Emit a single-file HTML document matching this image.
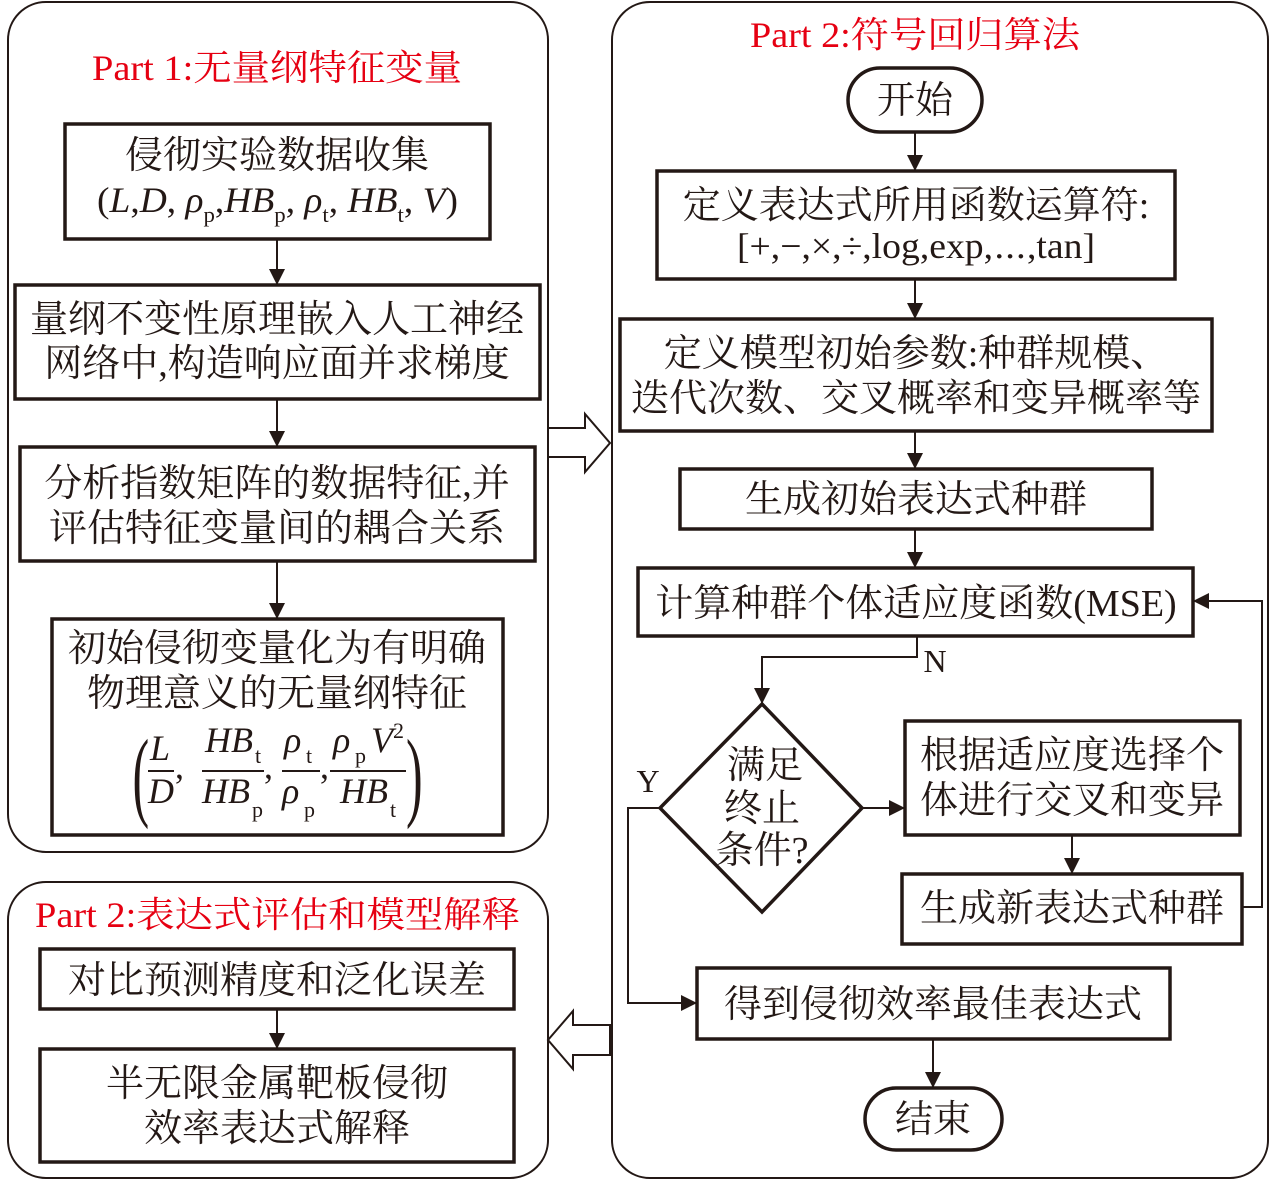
<!DOCTYPE html>
<html><head><meta charset="utf-8"><style>
html,body{margin:0;padding:0;background:#fff}
text{font-family:"Liberation Serif","Noto Serif CJK SC",serif;fill:#231815}
.c{font-size:38px;text-anchor:middle}
.r{fill:#e60012;font-size:36px}
.i{font-style:italic}
</style></head><body>
<svg width="1276" height="1180" viewBox="0 0 1276 1180" xmlns="http://www.w3.org/2000/svg">
<defs>
<marker id="b" markerWidth="16" markerHeight="16" refX="15" refY="8" orient="auto" markerUnits="userSpaceOnUse"><path d="M0,0 L16,8 L0,16 Z" fill="#231815"/></marker></defs>
<g fill="none" stroke="#231815" stroke-width="2">
<rect x="8" y="2" width="540" height="850" rx="38"/>
<rect x="8" y="882" width="540" height="296" rx="38"/>
<rect x="612" y="2" width="656" height="1176" rx="38"/>
</g>
<g fill="none" stroke="#231815" stroke-width="3.5">
<rect x="65" y="124" width="425" height="115"/>
<rect x="15" y="285" width="525" height="114"/>
<rect x="20" y="447" width="515" height="114"/>
<rect x="52" y="619" width="451" height="216"/>
<rect x="40" y="949" width="474" height="60"/>
<rect x="40" y="1049" width="474" height="113"/>
<rect x="848" y="68" width="134" height="64" rx="32"/>
<rect x="657" y="171" width="518" height="108"/>
<rect x="620" y="319" width="592" height="112"/>
<rect x="680" y="469" width="472" height="60"/>
<rect x="638" y="568" width="555" height="68"/>
<polygon points="762,704 862,808 762,912 660,808"/>
<rect x="905" y="721" width="335" height="114"/>
<rect x="902" y="874" width="340" height="70"/>
<rect x="697" y="968" width="473" height="71"/>
<rect x="865" y="1088" width="137" height="62" rx="31"/>
</g>
<g fill="#fff" stroke="#231815" stroke-width="2">
<path d="M548,428 L585,428 L585,414 L610,443 L585,472 L585,457 L548,457 Z"/>
<path d="M610,1025 L573,1025 L573,1011 L548,1040 L573,1069 L573,1055 L610,1055 Z"/>
</g>
<g stroke="#231815" stroke-width="2" fill="none" marker-end="url(#b)">
<line x1="277" y1="240" x2="277" y2="284"/>
<line x1="277" y1="400" x2="277" y2="446"/>
<line x1="277" y1="562" x2="277" y2="618"/>
<line x1="277" y1="1010" x2="277" y2="1048"/>
<line x1="915" y1="132" x2="915" y2="170"/>
<line x1="915" y1="280" x2="915" y2="318"/>
<line x1="915" y1="432" x2="915" y2="468"/>
<line x1="915" y1="530" x2="915" y2="567"/>
<polyline points="917,637 917,657 762,657 762,703"/>
<line x1="862" y1="808" x2="904" y2="808"/>
<line x1="1072" y1="836" x2="1072" y2="873"/>
<polyline points="1242,907 1262,907 1262,601 1194,601"/>
<polyline points="660,808 628,808 628,1003 696,1003"/>
<line x1="933" y1="1040" x2="933" y2="1087"/>
</g>
<text class="r" x="92" y="80" textLength="370" lengthAdjust="spacingAndGlyphs">Part 1:无量纲特征变量</text>
<text class="r" x="35" y="927" textLength="485" lengthAdjust="spacingAndGlyphs">Part 2:表达式评估和模型解释</text>
<text class="r" x="750" y="47" textLength="330" lengthAdjust="spacingAndGlyphs">Part 2:符号回归算法</text>
<text class="c" x="277" y="168">侵彻实验数据收集</text>
<text x="97" y="212" style="font-size:36px" textLength="361" lengthAdjust="spacingAndGlyphs">(<tspan class="i">L</tspan>,<tspan class="i">D</tspan>, <tspan class="i">ρ</tspan><tspan dy="10" font-size="22">p</tspan><tspan dy="-10">,</tspan><tspan class="i">HB</tspan><tspan dy="10" font-size="22">p</tspan><tspan dy="-10">, </tspan><tspan class="i">ρ</tspan><tspan dy="10" font-size="22">t</tspan><tspan dy="-10">, </tspan><tspan class="i">HB</tspan><tspan dy="10" font-size="22">t</tspan><tspan dy="-10">, </tspan><tspan class="i">V</tspan>)</text>
<text class="c" x="277" y="332">量纲不变性原理嵌入人工神经</text>
<text class="c" x="277" y="376">网络中,构造响应面并求梯度</text>
<text class="c" x="277" y="496">分析指数矩阵的数据特征,并</text>
<text class="c" x="277" y="541">评估特征变量间的耦合关系</text>
<text class="c" x="277" y="661">初始侵彻变量化为有明确</text>
<text class="c" x="277" y="706">物理意义的无量纲特征</text>
<g style="font-size:36px">
<text x="0" y="808" style="font-size:100px" transform="scale(0.5,1) translate(265,0)">(</text>
<text x="150" y="760" class="i">L</text><line x1="148" y1="771" x2="174" y2="771" stroke="#231815" stroke-width="2"/><text x="148" y="803" class="i">D</text><text x="175" y="778">,</text>
<text x="205" y="752" class="i">HB</text><text x="255" y="763" font-size="22">t</text><line x1="202" y1="771" x2="264" y2="771" stroke="#231815" stroke-width="2"/><text x="202" y="803" class="i">HB</text><text x="252" y="817" font-size="22">p</text><text x="264" y="778">,</text>
<text x="284" y="752" class="i">ρ</text><text x="306" y="763" font-size="22">t</text><line x1="282" y1="771" x2="320" y2="771" stroke="#231815" stroke-width="2"/><text x="282" y="803" class="i">ρ</text><text x="304" y="817" font-size="22">p</text><text x="320" y="778">,</text>
<text x="333" y="752" class="i">ρ</text><text x="355" y="763" font-size="22">p</text><text x="371" y="752" class="i">V</text><text x="393" y="738" font-size="22">2</text><line x1="330" y1="771" x2="406" y2="771" stroke="#231815" stroke-width="2"/><text x="340" y="803" class="i">HB</text><text x="390" y="817" font-size="22">t</text>
<text x="0" y="808" style="font-size:100px" transform="scale(0.5,1) translate(812,0)">)</text>
</g>
<text class="c" x="277" y="993">对比预测精度和泛化误差</text>
<text class="c" x="277" y="1096">半无限金属靶板侵彻</text>
<text class="c" x="277" y="1141">效率表达式解释</text>
<text class="c" x="915" y="113">开始</text>
<text class="c" x="916" y="218">定义表达式所用函数运算符:</text>
<text x="737" y="258" style="font-size:36px" textLength="358" lengthAdjust="spacingAndGlyphs">[+,−,×,÷,log,exp,⋯,tan]</text>
<text class="c" x="916" y="366">定义模型初始参数:种群规模、</text>
<text class="c" x="916" y="411">迭代次数、交叉概率和变异概率等</text>
<text class="c" x="916" y="512">生成初始表达式种群</text>
<text class="c" x="916" y="616">计算种群个体适应度函数(MSE)</text>
<text class="c" x="935" y="672" style="font-size:32px">N</text>
<text class="c" x="648" y="792" style="font-size:32px">Y</text>
<text class="c" x="765" y="778">满足</text>
<text class="c" x="762" y="821">终止</text>
<text class="c" x="762" y="863">条件?</text>
<text class="c" x="1072" y="768">根据适应度选择个</text>
<text class="c" x="1072" y="813">体进行交叉和变异</text>
<text class="c" x="1072" y="921">生成新表达式种群</text>
<text class="c" x="933" y="1017">得到侵彻效率最佳表达式</text>
<text class="c" x="933" y="1132">结束</text>
</svg>
</body></html>
